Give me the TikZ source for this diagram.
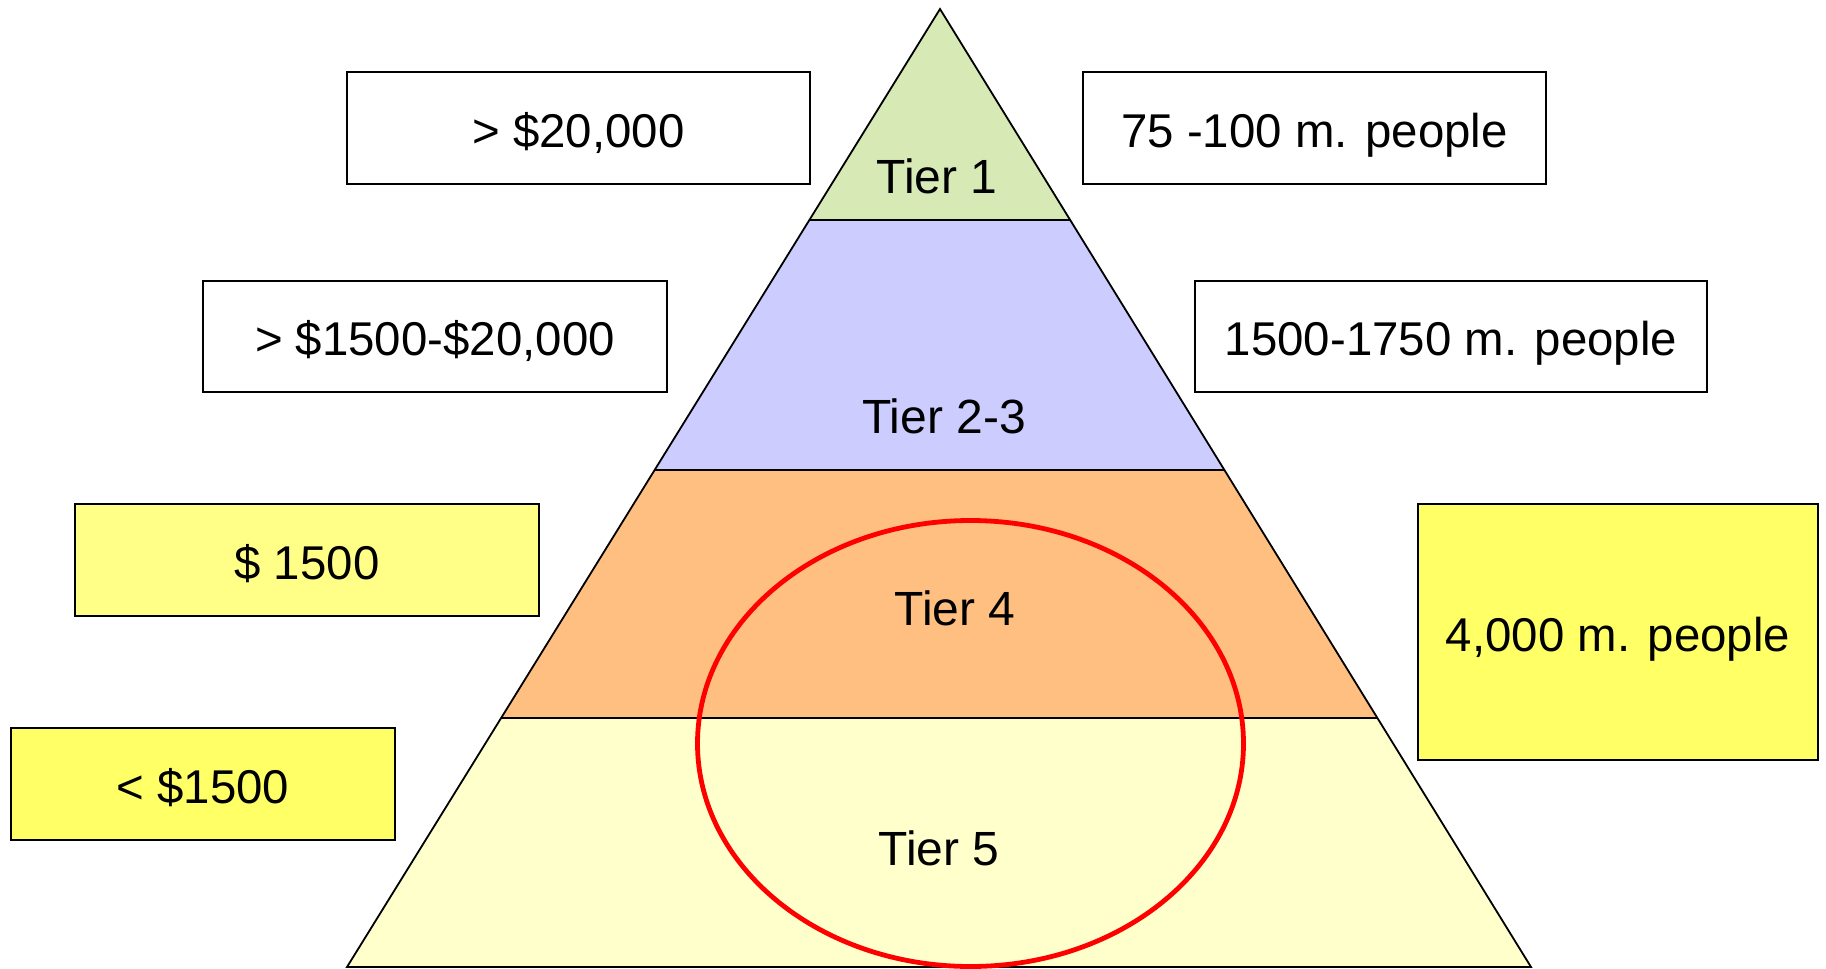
\documentclass[tikz,border=0pt]{standalone}
\usepackage{fontspec}
\setmainfont{Liberation Sans}
\usetikzlibrary{shapes.geometric}
\definecolor{tOne}{HTML}{D7E9B5}
\definecolor{tTwo}{HTML}{CCCCFF}
\definecolor{tFour}{HTML}{FFBF80}
\definecolor{tFive}{HTML}{FFFFCC}
\definecolor{ylight}{HTML}{FFFF88}
\definecolor{ystrong}{HTML}{FFFF66}
\begin{document}
\begin{tikzpicture}[x=0.5pt,y=-0.5pt,
  infobox/.style={draw=black, line width=1pt, fill=white, inner sep=0pt, font=\fontsize{23.7pt}{28pt}\selectfont, text height=19.3pt, text depth=0pt, minimum height=56pt},
  tierlabel/.style={font=\fontsize{24pt}{28pt}\selectfont, inner sep=0pt},
  pyr/.style={draw=black, line width=0.9pt, line join=miter}]
\useasboundingbox (0,0) rectangle (1826,969);
% pyramid coordinates
\coordinate (apex) at (940,9);
\coordinate (l1) at (809,220); \coordinate (r1) at (1071,220);
\coordinate (l2) at (655,470); \coordinate (r2) at (1225,470);
\coordinate (l4) at (501,718); \coordinate (r4) at (1378,718);
\coordinate (l5) at (347,967); \coordinate (r5) at (1531,967);
\fill[tOne] (apex) -- (r1) -- (l1) -- cycle;
\fill[tTwo] (l1) -- (r1) -- (r2) -- (l2) -- cycle;
\fill[tFour] (l2) -- (r2) -- (r4) -- (l4) -- cycle;
\fill[tFive] (l4) -- (r4) -- (r5) -- (l5) -- cycle;
\draw[pyr] (apex) -- (r5) -- (l5) -- cycle;
\draw[pyr] (l1) -- (r1);
\draw[pyr] (l2) -- (r2);
\draw[pyr] (l4) -- (r4);
% tier labels
\node[tierlabel] (t1) at (937,176) {Tier 1};
\node[tierlabel] (t23) at (944,416) {Tier 2-3};
\node[tierlabel] (t4) at (955,608) {Tier 4};
\node[tierlabel] (t5) at (939,848) {Tier 5};
% red oval
\node[ellipse, draw=red, line width=2.4pt, minimum width=273pt, minimum height=223pt, inner sep=0pt] (oval) at (970.5,743.5) {};
% boxes
\node[infobox, minimum width=231.5pt] (inc1) at (578.5,128) {> \$20,000};
\node[infobox, minimum width=231.5pt] (pop1) at (1314.5,128) {75 -100 m. people};
\node[infobox, minimum width=232pt, minimum height=55.5pt] (inc2) at (435,336.5) {> \$1500-\$20,000};
\node[infobox, minimum width=256pt, minimum height=55.5pt] (pop2) at (1451,336.5) {1500-1750 m. people};
\node[infobox, fill=ylight, minimum width=232pt] (inc4) at (307,560) {\$ 1500};
\node[infobox, fill=ystrong, minimum width=192pt] (inc5) at (203,784) {< \$1500};
\node[infobox, fill=ystrong, minimum width=200pt, minimum height=128pt] (pop4) at (1618,632) {4,000 m. people};
\end{tikzpicture}
\end{document}
